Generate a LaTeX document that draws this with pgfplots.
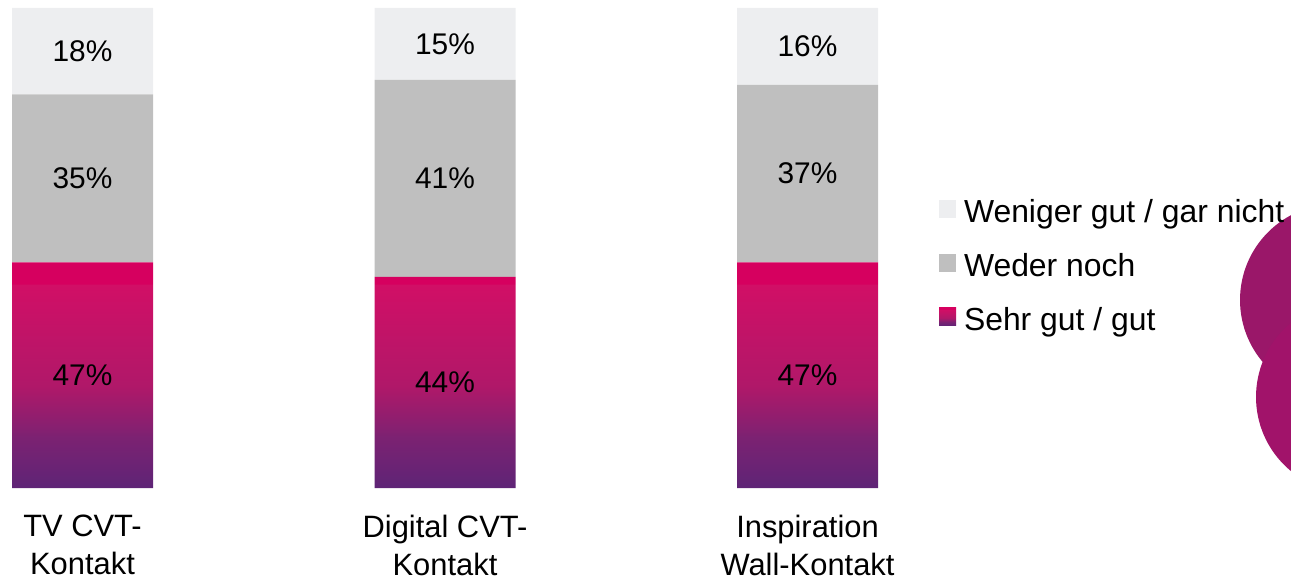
\documentclass[border=0pt]{standalone}
\usepackage{fontspec}
\setmainfont{Liberation Sans}
\usepackage{pgfplots}
\usepackage{pgfplotstable}
\pgfplotsset{compat=1.18}
\definecolor{lightg}{HTML}{EDEEF0}
\definecolor{midg}{HTML}{BFBFBF}
\definecolor{pinkband}{HTML}{D6005F}
\definecolor{pinktop}{HTML}{D10F66}
\definecolor{pinkmid}{HTML}{B01869}
\definecolor{purpq}{HTML}{7B2272}
\definecolor{purpbot}{HTML}{5E2476}
\definecolor{circA}{HTML}{9A1769}
\definecolor{circB}{HTML}{A1136A}
\pgfdeclareverticalshading{pinkgrad}{100bp}{color(0bp)=(purpbot); color(25bp)=(purpbot); color(36bp)=(purpq); color(47.5bp)=(pinkmid); color(70bp)=(pinktop); color(70.3bp)=(pinkband); color(100bp)=(pinkband)}

\pgfplotstableread{
x sehr weder weniger
0 47 35 18
1 44 41 15
2 47 37 16
}\datatable

\pgfplotsset{
  myaxis/.style={
    scale only axis, width=1291bp, height=480bp,
    xmin=-0.22759, xmax=3.33379, ymin=0, ymax=100,
    axis line style={draw=none}, ytick=\empty,
    major tick length=0pt,
    at={(0,0)}, anchor=south west, clip=false,
    /pgf/number format/assume math mode=true,
  },
  lab/.style={draw=none, mark=none, nodes near coords={\pgfmathprintnumber{\pgfplotspointmeta}\%},
    nodes near coords style={anchor=center, inner sep=0pt, text=black, font=\fontsize{30}{36}\selectfont}},
}

\begin{document}
\begin{tikzpicture}
\useasboundingbox (0,-93bp) rectangle (1291bp,488bp);
\fill[circA] (1336bp,188bp) circle (96bp);
\fill[circB] (1352bp,91bp) circle (96bp);
\begin{axis}[myaxis,
  ybar stacked, bar width=141bp,
  xtick={0,1,2},
  xticklabels={{TV CVT-\\Kontakt},{Digital CVT-\\Kontakt},{Inspiration\\Wall-Kontakt}},
  xticklabel style={align=center, anchor=north, inner sep=0pt, yshift=-27bp, font=\fontsize{31}{38}\selectfont},
  reverse legend,
  legend cell align=left,
  legend image code/.code={\path[#1] (0bp,-3bp) rectangle (17bp,15bp);},
  legend style={at={(0.72734,0.6)}, anchor=north west, draw=none, fill=none,
    inner sep=0pt, outer sep=0pt, row sep=24.5bp, column sep=8bp,
    nodes={inner sep=0pt, text height=22bp, text depth=7bp, font=\fontsize{32}{38}\selectfont}},
]
\addplot[shading=pinkgrad, draw=none] table[x=x, y=sehr] {\datatable};
\addlegendentry{Sehr gut / gut}
\addplot[fill=midg, draw=none] table[x=x, y=weder] {\datatable};
\addlegendentry{Weder noch}
\addplot[fill=lightg, draw=none] table[x=x, y=weniger] {\datatable};
\addlegendentry{Weniger gut / gar nicht}
\end{axis}
\begin{axis}[myaxis, xtick=\empty]
\addplot[lab, point meta=\thisrow{sehr}] table[x=x, y expr=\thisrow{sehr}/2] {\datatable};
\addplot[lab, point meta=\thisrow{weder}] table[x=x, y expr=\thisrow{sehr}+\thisrow{weder}/2] {\datatable};
\addplot[lab, point meta=\thisrow{weniger}] table[x=x, y expr=\thisrow{sehr}+\thisrow{weder}+\thisrow{weniger}/2] {\datatable};
\end{axis}
\end{tikzpicture}
\end{document}
